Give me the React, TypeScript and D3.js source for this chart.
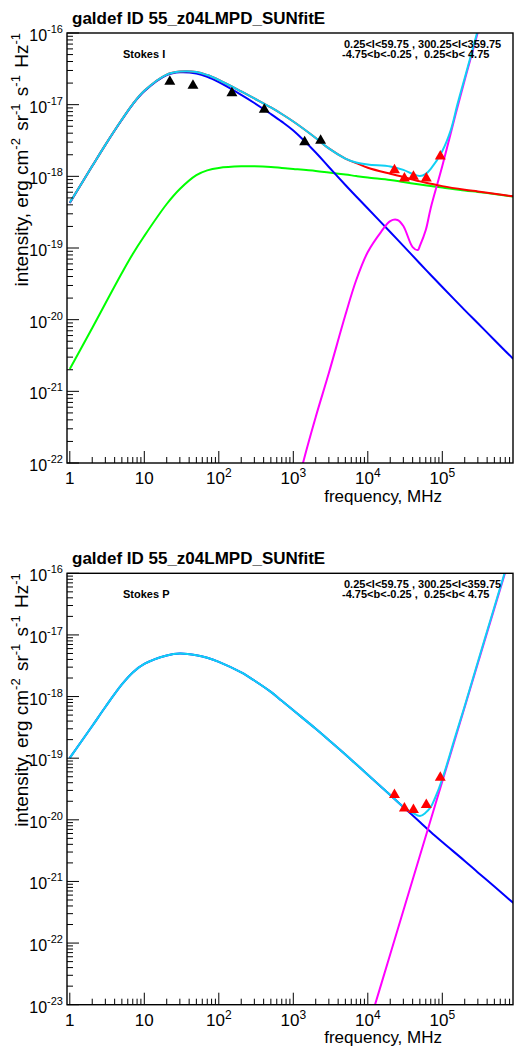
import React from "react";
import * as d3 from "d3";

// ---------------- data ----------------
const FREQ = [1, 2, 3, 5, 7, 10, 20, 30, 50, 70, 100, 200, 300, 500, 700, 1e3, 2e3, 3e3, 5e3, 7e3, 1e4, 2e4, 3e4, 5e4, 7e4, 1e5, 2e5, 3e5, 5e5, 7e5, 9e5];

// Stokes I
const I_SYNC = [4.25e-19, 1.39e-18, 2.74e-18, 6.15e-18, 1.01e-17, 1.54e-17, 2.59e-17, 2.83e-17, 2.72e-17, 2.45e-17, 2.06e-17, 1.37e-17, 1.055e-17, 7.41e-18, 5.8e-18, 4.35e-18, 2.15e-18, 1.35e-18, 7.57e-19, 5.23e-19, 3.56e-19, 1.67e-19, 1.07e-19, 6.08e-20, 4.2e-20, 2.86e-20, 1.36e-20, 8.9e-21, 5.21e-21, 3.66e-21, 2.83e-21];
const I_FREEFREE = [2.05e-21, 7.66e-21, 1.68e-20, 4.48e-20, 8.25e-20, 1.47e-19, 4.11e-19, 6.66e-19, 1.04e-18, 1.21e-18, 1.31e-18, 1.38e-18, 1.38e-18, 1.35e-18, 1.31e-18, 1.27e-18, 1.19e-18, 1.13e-18, 1.06e-18, 1.01e-18, 9.63e-19, 8.89e-19, 8.34e-19, 7.69e-19, 7.33e-19, 6.98e-19, 6.34e-19, 6.05e-19, 5.67e-19, 5.4e-19, 5.23e-19];
const I_SYNC_FF = [4.3e-19, 1.39e-18, 2.75e-18, 6.2e-18, 1.02e-17, 1.56e-17, 2.63e-17, 2.9e-17, 2.86e-17, 2.59e-17, 2.21e-17, 1.53e-17, 1.22e-17, 9.14e-18, 7.41e-18, 5.82e-18, 3.43e-18, 2.45e-18, 1.77e-18, 1.53e-18, 1.32e-18, 1.085e-18, 9.79e-19, 8.5e-19, 7.9e-19, 7.3e-19, 6.5e-19, 6.15e-19, 5.72e-19, 5.45e-19, 5.26e-19];
const I_TOTAL_FREQ = [1, 2, 3, 5, 7, 10, 20, 30, 50, 70, 100, 200, 300, 500, 700, 1e3, 2e3, 3e3, 5e3, 7e3, 1e4, 2e4, 3e4, 4e4, 5e4, 6e4, 7e4, 1e5, 1.3e5, 1.6e5, 2e5, 3e5, 4e5];
const I_TOTAL = [4.3e-19, 1.39e-18, 2.75e-18, 6.2e-18, 1.02e-17, 1.56e-17, 2.63e-17, 2.9e-17, 2.86e-17, 2.59e-17, 2.21e-17, 1.53e-17, 1.22e-17, 9.14e-18, 7.41e-18, 5.82e-18, 3.43e-18, 2.45e-18, 1.77e-18, 1.56e-18, 1.46e-18, 1.37e-18, 1.23e-18, 1.08e-18, 1.01e-18, 1.08e-18, 1.27e-18, 2.26e-18, 4.43e-18, 1.02e-17, 2.36e-17, 1.1e-16, 3.5e-16];
const I_DUST_FREQ = [1e3, 1.35e3, 2e3, 3e3, 5e3, 7e3, 1e4, 1.5e4, 2e4, 2.5e4, 3e4, 4e4, 4.7e4, 5e4, 6e4, 7e4, 1e5, 1.5e5, 2e5, 3e5, 4e5];
const I_DUST = [2.6e-23, 1e-22, 4.39e-22, 1.8e-21, 1.16e-20, 3.58e-20, 8.8e-20, 1.67e-19, 2.38e-19, 2.46e-19, 2.03e-19, 1.03e-19, 9.38e-20, 1.07e-19, 1.78e-19, 3.62e-19, 1.39e-18, 7.18e-18, 2.21e-17, 1.03e-16, 3.4e-16];
const I_RADIO_FREQ = [22, 45, 150, 408, 1420, 2326];
const I_RADIO = [2.21e-17, 1.94e-17, 1.53e-17, 9.0e-18, 3.16e-18, 3.32e-18];
const WMAP_FREQ = [22800, 31000, 41000, 61000, 94000];
const I_WMAP = [1.29e-18, 9.9e-19, 1.04e-18, 9.9e-19, 2.0e-18];

// Stokes P
const P_SYNC = [1.01e-19, 3.33e-19, 6.77e-19, 1.57e-18, 2.46e-18, 3.38e-18, 4.64e-18, 4.99e-18, 4.69e-18, 4.25e-18, 3.66e-18, 2.46e-18, 1.82e-18, 1.19e-18, 8.53e-19, 5.98e-19, 3.0e-19, 1.97e-19, 1.15e-19, 7.96e-20, 5.4e-20, 2.53e-20, 1.61e-20, 9.22e-21, 6.34e-21, 4.36e-21, 2.15e-21, 1.4e-21, 8.28e-22, 5.81e-22, 4.47e-22];
const P_DUST_FREQ = [1e4, 2e4, 5e4, 1e5, 2e5, 5e5, 9e5];
const P_DUST = [4.09e-24, 6.58e-23, 2.61e-21, 4.2e-20, 6.75e-19, 2.7e-17, 2.85e-16];
const P_TOTAL_FREQ = [1, 2, 3, 5, 7, 10, 20, 30, 50, 70, 100, 200, 300, 500, 700, 1e3, 2e3, 3e3, 5e3, 7e3, 1e4, 2e4, 3e4, 4e4, 5e4, 6e4, 7e4, 8e4, 1e5, 1.5e5, 2e5, 3e5, 5e5, 7e5];
const P_TOTAL = [1.01e-19, 3.33e-19, 6.77e-19, 1.57e-18, 2.46e-18, 3.38e-18, 4.64e-18, 4.99e-18, 4.69e-18, 4.25e-18, 3.66e-18, 2.46e-18, 1.82e-18, 1.19e-18, 8.53e-19, 5.98e-19, 3.0e-19, 1.97e-19, 1.15e-19, 7.96e-20, 5.4e-20, 2.53e-20, 1.62e-20, 1.3e-20, 1.15e-20, 1.31e-20, 1.61e-20, 2.26e-20, 4.59e-20, 2.29e-19, 7.03e-19, 3.64e-18, 2.84e-17, 1.09e-16];
const P_WMAP = [2.69e-20, 1.63e-20, 1.54e-20, 1.85e-20, 5.14e-20];

const TITLE = "galdef ID 55_z04LMPD_SUNfitE";
const REGION_1 = "0.25<l<59.75 , 300.25<l<359.75";
const REGION_2 = "-4.75<b<-0.25 ,  0.25<b< 4.75";
const X_MAJOR = [1, 10, 100, 1e3, 1e4, 1e5];

// ---------------- layout ----------------
const FONT = "'Liberation Sans', Arial, Helvetica, sans-serif";
const X_LEFT = 67;
const X_RIGHT = 513;
const xScale = d3
  .scaleLog()
  .domain([Math.pow(10, -0.0376), Math.pow(10, 5.949)])
  .range([X_LEFT, X_RIGHT]);

const COLORS = {
  ff: "#00ff00",
  sync: "#0000ff",
  dust: "#ff00ff",
  sum: "#ff0000",
  total: "#10d0f4",
};

type Series = { f: number[]; v: number[]; color: string };
type Markers = { f: number[]; v: number[]; color: string };

function Sup({ base, exp, size, supSize, dy }: { base: string; exp: string; size: number; supSize: number; dy: number }) {
  return (
    <>
      <tspan fontSize={size}>{base}</tspan>
      <tspan fontSize={supSize} dy={-dy}>{exp}</tspan>
    </>
  );
}

function Panel({
  id,
  top,
  bottom,
  expMin,
  expMax,
  series,
  markers,
  stokes,
}: {
  id: string;
  top: number;
  bottom: number;
  expMin: number;
  expMax: number;
  series: Series[];
  markers: Markers[];
  stokes: string;
}) {
  const y = d3
    .scaleLog()
    .domain([Math.pow(10, expMin), Math.pow(10, expMax)])
    .range([bottom, top]);
  const line = d3
    .line<[number, number]>()
    .x((d) => xScale(d[0]))
    .y((d) => y(d[1]))
    .curve(d3.curveCatmullRom.alpha(0.5));
  const symSize = 52;
  const symH = Math.sqrt(symSize / (Math.sqrt(3) * 3));
  const sym = d3.symbol().type(d3.symbolTriangle).size(symSize)() as string;

  const xMax = xScale.domain()[1];
  const xMinor: number[] = [];
  for (let e = 0; e <= 5; e++)
    for (let k = 2; k <= 9; k++) {
      const f = k * Math.pow(10, e);
      if (f <= xMax) xMinor.push(f);
    }
  const yMajorExp: number[] = [];
  for (let e = expMin; e <= expMax; e++) yMajorExp.push(e);
  const yMinor: number[] = [];
  for (let e = expMin; e < expMax; e++)
    for (let k = 2; k <= 9; k++) yMinor.push(k * Math.pow(10, e));

  const clipId = `clip-${id}`;
  const labelSize = 17;
  const supSize = 11;

  return (
    <g>
      <defs>
        <clipPath id={clipId}>
          <rect x={X_LEFT} y={top} width={X_RIGHT - X_LEFT} height={bottom - top} />
        </clipPath>
      </defs>

      {/* title */}
      <text x={72} y={top - 9} fontFamily={FONT} fontWeight="bold" fontSize={17} fill="#000">
        {TITLE}
      </text>

      {/* curves */}
      <g clipPath={`url(#${clipId})`}>
        {series.map((s, i) => (
          <path
            key={i}
            d={line(s.f.map((f, j) => [f, s.v[j]] as [number, number])) || ""}
            fill="none"
            stroke={s.color}
            strokeWidth={2}
            strokeLinejoin="round"
          />
        ))}
      </g>

      {/* markers */}
      {markers.map((m, i) =>
        m.f.map((f, j) => (
          <path
            key={`${i}-${j}`}
            d={sym}
            transform={`translate(${xScale(f)},${y(m.v[j]) + symH / 2})`}
            fill={m.color}
          />
        ))
      )}

      {/* frame */}
      <rect x={X_LEFT} y={top} width={X_RIGHT - X_LEFT} height={bottom - top} fill="none" stroke="#000" strokeWidth={1.4} />

      {/* x ticks */}
      {X_MAJOR.map((f) => (
        <line key={`xM${f}`} x1={xScale(f)} x2={xScale(f)} y1={bottom} y2={bottom - 12} stroke="#000" strokeWidth={1} />
      ))}
      {xMinor.map((f) => (
        <line key={`xm${f}`} x1={xScale(f)} x2={xScale(f)} y1={bottom} y2={bottom - 6} stroke="#000" strokeWidth={1} />
      ))}
      {X_MAJOR.map((f, i) => (
        <text key={`xl${f}`} x={xScale(f)} y={bottom + 21} textAnchor="middle" fontFamily={FONT} fontSize={labelSize} fill="#000">
          {i === 0 ? "1" : i === 1 ? "10" : <Sup base="10" exp={String(i)} size={labelSize} supSize={supSize + 1} dy={7} />}
        </text>
      ))}
      <text x={442} y={bottom + 38.7} textAnchor="end" fontFamily={FONT} fontSize={17} fill="#000">
        frequency, MHz
      </text>

      {/* y ticks */}
      {yMajorExp.map((e) => (
        <line key={`yM${e}`} x1={X_LEFT} x2={X_LEFT + 12} y1={y(Math.pow(10, e))} y2={y(Math.pow(10, e))} stroke="#000" strokeWidth={1} />
      ))}
      {yMinor.map((v, i) => (
        <line key={`ym${i}`} x1={X_LEFT} x2={X_LEFT + 6} y1={y(v)} y2={y(v)} stroke="#000" strokeWidth={1} />
      ))}
      {yMajorExp.map((e) => (
        <text key={`yl${e}`} x={63} y={y(Math.pow(10, e)) + 8} textAnchor="end" fontFamily={FONT} fontSize={16} fill="#000">
          <Sup base="10" exp={String(e)} size={16} supSize={supSize} dy={8} />
        </text>
      ))}
      <text transform={`translate(28,${top}) rotate(-90)`} textAnchor="end" fontFamily={FONT} fontSize={19} fill="#000">
        <tspan>{"intensity, erg cm"}</tspan>
        <tspan fontSize={13} dy={-8}>{"-2"}</tspan>
        <tspan dy={8} dx={2}>{" sr"}</tspan>
        <tspan fontSize={13} dy={-8}>{"-1"}</tspan>
        <tspan dy={8} dx={2}>{" s"}</tspan>
        <tspan fontSize={13} dy={-8}>{"-1"}</tspan>
        <tspan dy={8} dx={2}>{" Hz"}</tspan>
        <tspan fontSize={13} dy={-8}>{"-1"}</tspan>
      </text>

      {/* annotations */}
      <text x={123} y={top + 25} fontFamily={FONT} fontWeight="bold" fontSize={11} fill="#000">
        {stokes}
      </text>
      <text x={344} y={top + 14.5} fontFamily={FONT} fontWeight="bold" fontSize={11} fill="#000">
        {REGION_1}
      </text>
      <text x={342} y={top + 24.5} fontFamily={FONT} fontWeight="bold" fontSize={11} fill="#000" style={{ whiteSpace: "pre" }}>
        {REGION_2}
      </text>
    </g>
  );
}

export default function App() {
  return (
    <svg
      width={516}
      height={1047}
      viewBox="0 0 516 1047"
      style={{ position: "absolute", left: 0, top: 0, display: "block", background: "#fff" }}
    >
      <rect x={0} y={0} width={516} height={1047} fill="#fff" />
      <Panel
        id="I"
        top={33}
        bottom={463}
        expMin={-22}
        expMax={-16}
        stokes="Stokes I"
        series={[
          { f: FREQ, v: I_FREEFREE, color: COLORS.ff },
          { f: FREQ, v: I_SYNC, color: COLORS.sync },
          { f: I_DUST_FREQ, v: I_DUST, color: COLORS.dust },
          { f: FREQ, v: I_SYNC_FF, color: COLORS.sum },
          { f: I_TOTAL_FREQ, v: I_TOTAL, color: COLORS.total },
        ]}
        markers={[
          { f: I_RADIO_FREQ, v: I_RADIO, color: "#000" },
          { f: WMAP_FREQ, v: I_WMAP, color: "#ff0000" },
        ]}
      />
      <Panel
        id="P"
        top={573.3}
        bottom={1004.7}
        expMin={-23}
        expMax={-16}
        stokes="Stokes P"
        series={[
          { f: FREQ, v: P_SYNC, color: COLORS.sync },
          { f: P_DUST_FREQ, v: P_DUST, color: COLORS.dust },
          { f: P_TOTAL_FREQ, v: P_TOTAL, color: COLORS.total },
        ]}
        markers={[{ f: WMAP_FREQ, v: P_WMAP, color: "#ff0000" }]}
      />
    </svg>
  );
}
